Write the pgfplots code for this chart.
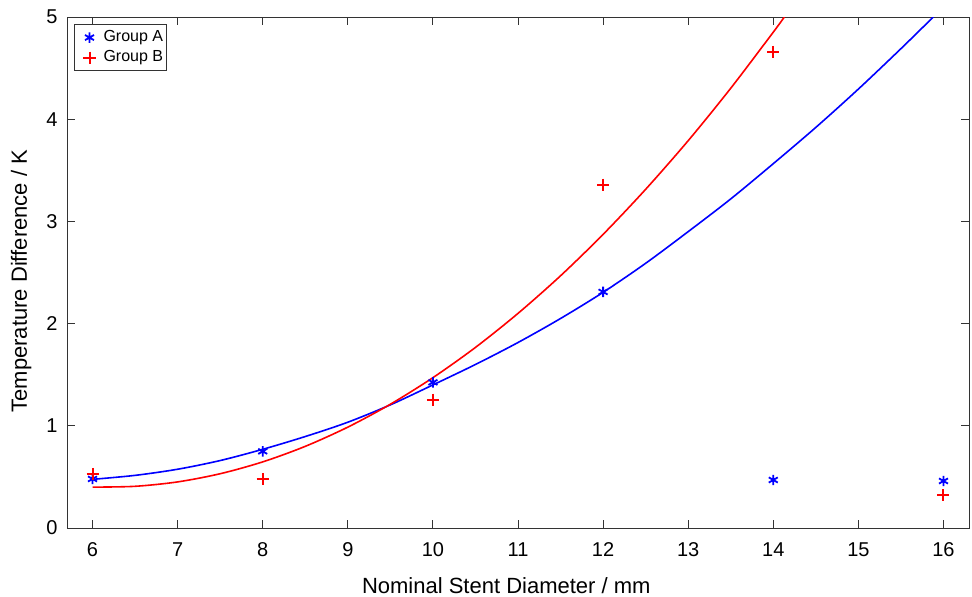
\documentclass[border=0pt]{standalone}
\usepackage{fontspec}
\setmainfont{Liberation Sans}
\usepackage{pgfplots}
\pgfplotsset{compat=1.18}
\definecolor{grpA}{RGB}{0,0,255}
\definecolor{grpB}{RGB}{255,0,0}

\begin{document}
\begin{tikzpicture}
\useasboundingbox (-33.5bp,-34.5bp) rectangle (452.5bp,264bp);
\begin{axis}[
    at={(0,0)}, anchor=south west,
    scale only axis,
    width=451bp, height=255.5bp,
    xmin=5.7, xmax=16.3,
    ymin=0, ymax=5,
    xtick={6,7,...,16},
    ytick={0,1,...,5},
    tick align=inside,
    major tick length=4bp,
    axis line style={draw=black!80, line width=0.5bp},
    every tick/.style={draw=black!80, line width=0.5bp},
    /pgf/number format/assume math mode=true,
    tick label style={font=\fontsize{10bp}{12bp}\selectfont},
    xticklabel style={anchor=base, yshift=-14.3bp},
    yticklabel style={anchor=east, inner sep=0pt, xshift=-4.5bp},
    xlabel={Nominal Stent Diameter / mm},
    ylabel={Temperature Difference / K},
    label style={font=\fontsize{11bp}{13bp}\selectfont, inner sep=0pt},
    xlabel style={at={([yshift=-32.5bp]rel axis cs:0.487,0)}, anchor=base},
    ylabel style={at={([xshift=-20bp]rel axis cs:0,0.483)}, anchor=base},
    legend cell align=left,
    legend style={
        at={([xshift=3.5bp,yshift=-3.5bp]rel axis cs:0,1)},
        anchor=north west,
        draw=black!80, line width=0.5bp,
        font=\fontsize{8bp}{9.5bp}\selectfont,
        inner xsep=1.5bp, inner ysep=1bp,
        nodes={inner xsep=0pt},
        row sep=-1bp,
    },
    legend image code/.code={\path[draw=none] (-6bp,0bp) -- (7bp,0bp); \draw plot coordinates {(0bp,0bp)};},
]
% fitted curves
\addplot[grpA, line width=0.8bp, smooth, forget plot] coordinates {
    (6,0.476) (6.5,0.515) (7,0.575) (7.5,0.66) (8,0.77) (8.5,0.895) (9,1.035)
    (9.5,1.205) (10,1.40) (10.5,1.60) (11,1.815) (11.5,2.05) (12,2.306)
    (12.5,2.59) (13,2.90) (13.5,3.22) (14,3.565) (14.5,3.92) (15,4.295)
    (15.5,4.69) (15.88,5.0)};
\addplot[grpB, line width=0.8bp, smooth, forget plot] coordinates {
    (6,0.400) (6.5,0.408) (7,0.451) (7.5,0.531) (8,0.647) (8.5,0.799) (9,0.987)
    (9.5,1.211) (10,1.471) (10.5,1.767) (11,2.100) (11.5,2.468) (12,2.873)
    (12.5,3.314) (13,3.790) (13.5,4.303) (14,4.852) (14.13,5.0)};
% measured points
\addplot[color=grpA, only marks, mark=asterisk, mark size=2.6bp, line width=0.9bp,
    mark options={solid, draw=grpA}] coordinates {
    (6,0.48) (8,0.75) (10,1.425) (12,2.31) (14,0.47) (16,0.46)};
\addlegendentry{Group A}
\addplot[color=grpB, only marks, mark=+, mark size=3bp, line width=1bp,
    mark options={solid, draw=grpB}] coordinates {
    (6,0.53) (8,0.48) (10,1.255) (12,3.36) (14,4.66) (16,0.32)};
\addlegendentry{Group B}
\end{axis}
\end{tikzpicture}
\end{document}
